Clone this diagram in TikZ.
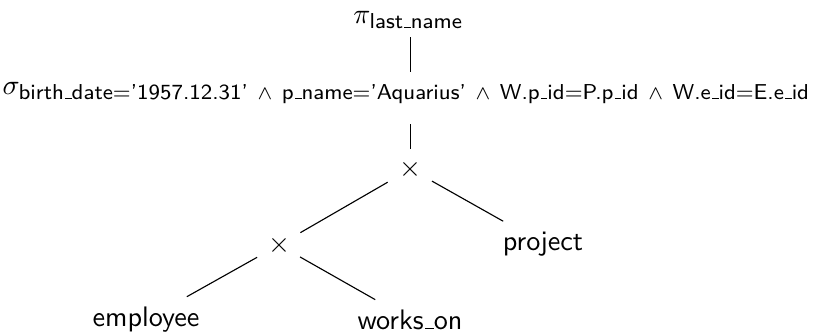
\documentclass[tikz,border=0pt]{standalone}
\usepackage{amsmath}
\def\PX{0.3546pt}
\newcommand{\usc}{\leavevmode\kern.06em\vbox{\hrule width.3em}}
\newcommand{\subf}{\fontsize{7.65}{8.5}\selectfont}
\begin{document}
\begin{tikzpicture}[x=0.3546pt,y=-0.3546pt,font=\sffamily,
  lbl/.style={inner sep=0pt,anchor=base},
  opnode/.style={inner sep=0pt},
  edge/.style={line width=0.4pt}]
\useasboundingbox (0,0) rectangle (813,332);
\node[lbl] (pi) at (408.5,23) {$\pi_{\text{\subf last\usc name}}$};
\node[lbl] (sigma) at (406.5,94) {$\sigma_{\text{\subf birth\usc date='1957.12.31'}\ \wedge\ \text{\subf p\usc name='Aquarius'}\ \wedge\ \text{\subf W.p\usc id=P.p\usc id}\ \wedge\ \text{\subf W.e\usc id=E.e\usc id}}$};
\node[opnode] (top) at (410.5,169) {$\times$};
\node[opnode] (left) at (279,245) {$\times$};
\node[lbl] (project) at (543,250) {project};
\node[lbl] (employee) at (146,326.5) {employee};
\node[lbl] (works) at (410,329) {works\usc on};
\draw[edge,shorten <={14*\PX},shorten >={22*\PX}] (pi.base -| top.center) -- (sigma.base -| top.center);
\draw[edge,shorten <={30*\PX},shorten >={20*\PX}] (sigma.base -| top.center) -- (top.center);
\draw[edge,shorten <={26.4*\PX},shorten >={24.7*\PX}] (top.center) -- (left.center);
\draw[edge,shorten <={24.7*\PX},shorten >={45.7*\PX}] (top.center) -- (project.center);
\draw[edge,shorten <={25.1*\PX},shorten >={46.8*\PX}] (left.center) -- (employee.center);
\draw[edge,shorten <={24.2*\PX},shorten >={40*\PX}] (left.center) -- (works.center);
\end{tikzpicture}
\end{document}
